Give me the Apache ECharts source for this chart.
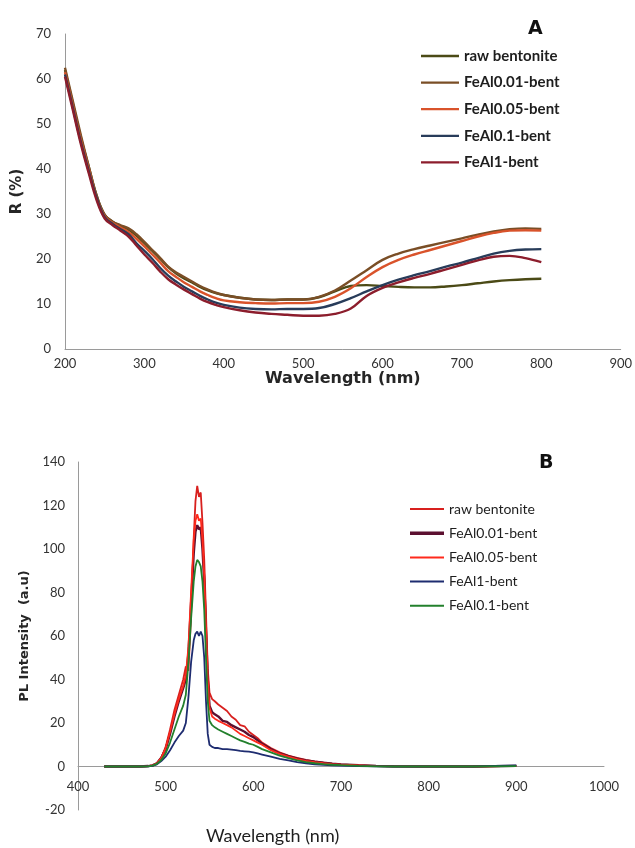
<!DOCTYPE html>
<html>
<head>
<meta charset="utf-8">
<script src="https://cdn.jsdelivr.net/npm/echarts@6/dist/echarts.min.js"></script>
<style>
html,body{margin:0;padding:0;background:#fff;}
#c{width:635px;height:848px;}
</style>
</head>
<body>
<div id="c"></div>
<script>
// ---------- Chart A: diffuse reflectance ----------
const uvWl = [200,210,220,230,240,250,260,270,280,290,300,310,320,330,340,350,360,370,380,390,400,420,440,460,480,500,520,540,560,580,600,620,640,660,680,700,720,740,760,780,800];
const uvRaw    = [62,54.5,47,40.5,34,29.8,28.3,27.3,26.5,25.2,23.5,21.8,20,18.2,16.8,15.7,14.8,13.8,13,12.4,12,11.4,11,10.9,11,11,11.5,12.8,14,14.2,14,13.8,13.7,13.7,13.9,14.2,14.6,15,15.3,15.5,15.6];
const uvFe001  = [62.5,55,47.5,40.5,34,29.8,28.3,27.5,26.8,25.5,23.8,22,20.2,18.3,17,16,15,14,13.2,12.5,12,11.4,11,10.9,11,11,11.6,13,15.2,17.5,19.8,21.2,22.2,23,23.8,24.6,25.4,26.1,26.6,26.8,26.7];
const uvFe005  = [61.5,54,46.5,40,33.5,29.5,28,27,26,24.5,22.8,21,19.2,17.3,16,14.8,13.8,12.8,12,11.3,10.8,10.4,10.2,10.1,10.2,10.2,10.5,11.6,13.5,16,18.2,19.8,21,22,23,24,25,25.8,26.3,26.4,26.3];
const uvFe01   = [61,53.5,46,39.5,33.5,29.3,27.8,26.6,25.5,23.5,21.8,20,18,16.3,15,13.8,12.8,11.8,11,10.3,9.8,9.2,8.9,8.8,8.9,8.9,9.1,10,11.3,12.8,14.2,15.4,16.4,17.3,18.3,19.2,20.2,21.2,21.8,22.1,22.2];
const uvFe1    = [60.5,53,45.5,39,33,29,27.5,26.3,25,23,21,19.2,17.2,15.5,14.3,13.2,12.2,11.2,10.4,9.8,9.3,8.6,8.1,7.8,7.6,7.4,7.4,7.8,9,11.8,13.6,14.8,15.8,16.7,17.7,18.7,19.7,20.5,20.7,20.2,19.3];
const uvNames  = ['raw bentonite','FeAl0.01-bent','FeAl0.05-bent','FeAl0.1-bent','FeAl1-bent'];
const uvXTicks = [200,900,100];
const uvYTicks = [0,70,10];

// ---------- Chart B: photoluminescence ----------
const plWl = [430,450,470,480,485,490,495,500,505,510,515,520,523,526,529,532,534,536,538,540,542,544,546,548,550,553,556,560,565,570,575,580,585,590,595,600,605,610,620,630,640,650,660,670,680,690,700,720,740,760,800,850,900];
const plRaw   = [0,0,0,0.2,0.5,1.5,4,9,17,26,33,40,46,44,70,105,122,129,124,126,112,95,70,45,34,31,30,28.5,27,25.5,23,21.5,19,18.5,16,14.5,13,11,8.5,6.5,5,4,3,2.3,1.8,1.3,1,0.5,0.3,0.1,0,0,0.3];
const plFe001 = [0,0,0,0.2,0.5,1.5,4,8,15,23,30,36,40,52,75,98,108,111,109,110,100,85,62,40,28,25,24,23,21,20.5,19,18,17,16,14.5,13.5,12,10.5,8,6,4.8,3.6,2.8,2.2,1.7,1.3,1,0.6,0.3,0.1,0,0,0.3];
const plFe005 = [0,0,0,0.2,0.5,1.5,4,8.5,16,24,31,37,42,55,80,104,113,116,113,114,104,88,64,40,27,23,22,21,20,19,18,16.5,15,14,13,12,11,10,7.5,5.8,4.5,3.4,2.6,2,1.5,1.1,0.8,0.5,0.2,0.1,0,0,0.3];
const plFe1   = [0,0,0,0.1,0.3,1,2.5,4.5,7.5,11,14,16.5,20,32,48,58,61,62,60,62,60,50,30,15,10,9,8.5,8.5,8,8,7.8,7.5,7.2,7,6.8,6.5,6,5.5,4.5,3.5,2.8,2,1.5,1,0.8,0.5,0.4,0.2,0.1,0,0,0,0.5];
const plFe01  = [0,0,0,0.1,0.4,1.2,3,6,11,17,23,28,33,48,68,85,92,95,94,92,85,72,50,30,21,19,18,17,16,15,14,13,12,11.3,10.5,10,9,8,6.5,5,3.8,2.8,2,1.5,1.1,0.8,0.6,0.3,0.1,0,0,0,0.2];
const plNames = ['raw bentonite','FeAl0.01-bent','FeAl0.05-bent','FeAl1-bent','FeAl0.1-bent'];
const plXTicks = [400,1000,100];
const plYTicks = [-20,140,20];

function pairs(xs, ys){ return xs.map((x,i)=>[x, ys[i]]); }

const uvColors = ['#4b4a16','#7a4e26','#d9532b','#283c5a','#8c1d2c'];
const uvData = [uvRaw, uvFe001, uvFe005, uvFe01, uvFe1];
const plColors = ['#d8201e','#5c1030','#ff2a1c','#1e2c70','#23802c'];
const plWidths = [1.8,2.4,1.8,1.8,1.8];
const plData = [plRaw, plFe001, plFe005, plFe1, plFe01];

const labelFont = {fontFamily:'Lato', fontSize:13, color:'#333333'};
const axisLine = {show:true, onZero:false, lineStyle:{color:'#9a9a9a', width:1}};
const thinIcon = 'path://M0,0 L40,0 L40,2.4 L0,2.4 Z';
const thickIcon = 'path://M0,0 L40,0 L40,4 L0,4 Z';

const series = [];
uvNames.forEach((n,i)=>{
  series.push({
    name:'A:'+n, type:'line', xAxisIndex:0, yAxisIndex:0,
    data: pairs(uvWl, uvData[i]), smooth:0.4, symbol:'none',
    lineStyle:{color:uvColors[i], width:2.4}, itemStyle:{color:uvColors[i]},
    z: 2
  });
});
plNames.forEach((n,i)=>{
  series.push({
    name:'B:'+n, type:'line', xAxisIndex:1, yAxisIndex:1,
    data: pairs(plWl, plData[i]), smooth:false, symbol:'none',
    lineStyle:{color:plColors[i], width:plWidths[i]}, itemStyle:{color:plColors[i]},
    z: 2
  });
});

const option = {
  backgroundColor:'#ffffff',
  animation:false,
  grid:[
    {left:65, right:10, top:34, bottom:499},
    {left:78, right:31, top:462, bottom:38}
  ],
  xAxis:[
    {type:'value', gridIndex:0, min:uvXTicks[0], max:uvXTicks[1], interval:uvXTicks[2],
     axisLine:axisLine, axisTick:{show:false}, splitLine:{show:false},
     axisLabel:Object.assign({margin:8, formatter:v=>String(v)}, labelFont),
     name:'Wavelength (nm)', nameLocation:'middle', nameGap:22,
     nameTextStyle:{fontFamily:'DejaVu Sans', fontWeight:'bold', fontSize:16, color:'#262626'}},
    {type:'value', gridIndex:1, min:plXTicks[0], max:plXTicks[1], interval:plXTicks[2],
     offset:-43.5,
     axisLine:axisLine, axisTick:{show:false}, splitLine:{show:false},
     axisLabel:Object.assign({margin:14, formatter:v=>String(v)}, labelFont)}
  ],
  yAxis:[
    {type:'value', gridIndex:0, min:uvYTicks[0], max:uvYTicks[1], interval:uvYTicks[2],
     axisLine:axisLine, axisTick:{show:false}, splitLine:{show:false},
     axisLabel:Object.assign({margin:14}, labelFont),
     name:'R (%)', nameLocation:'middle', nameGap:30,
     nameTextStyle:{fontFamily:'DejaVu Sans', fontWeight:'bold', fontSize:15, color:'#262626'}},
    {type:'value', gridIndex:1, min:plYTicks[0], max:plYTicks[1], interval:plYTicks[2],
     axisLine:axisLine, axisTick:{show:false}, splitLine:{show:false},
     axisLabel:Object.assign({margin:13}, labelFont),
     name:'PL Intensity  (a.u)', nameLocation:'middle', nameGap:33,
     nameTextStyle:{fontFamily:'DejaVu Sans', fontWeight:'bold', fontSize:13, color:'#262626'}}
  ],
  legend:[
    {data:uvNames.map(n=>({name:'A:'+n, icon:thinIcon})), orient:'vertical', left:416, top:43,
     itemWidth:38, itemHeight:14, itemGap:10.6,
     formatter:n=>n.replace(/^A:/,''),
     textStyle:{fontFamily:'Lato', fontWeight:'bold', fontSize:15, color:'#1e1e1e', lineHeight:16}},
    {data:plNames.map((n,i)=>({name:'B:'+n, icon: i===1 ? thickIcon : thinIcon})), orient:'vertical', left:405, top:496,
     itemWidth:34, itemHeight:14, itemGap:8.2,
     formatter:n=>n.replace(/^B:/,''),
     textStyle:{fontFamily:'Lato', fontSize:14, color:'#1e1e1e', lineHeight:16}}
  ],
  graphic:[
    {type:'text', left:528, top:20, style:{text:'A', font:'bold 19px "DejaVu Sans"', fill:'#111'}},
    {type:'text', left:539, top:454, style:{text:'B', font:'bold 19px "DejaVu Sans"', fill:'#111'}},
    {type:'text', left:206, top:827, style:{text:'Wavelength (nm)', font:'18px Lato', fill:'#1e1e1e'}}
  ],
  series: series
};

const chart = echarts.init(document.getElementById('c'), null, {renderer:'canvas'});
chart.setOption(option);
</script>
</body>
</html>
